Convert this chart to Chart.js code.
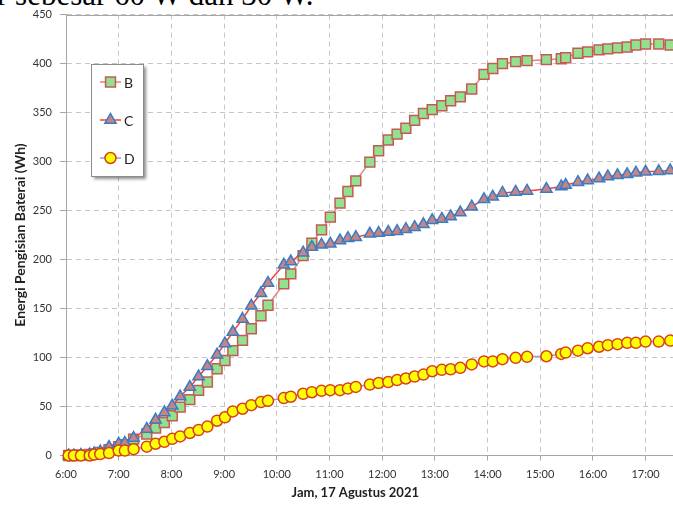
<!DOCTYPE html>
<html>
<head>
<meta charset="utf-8">
<script src="https://cdn.jsdelivr.net/npm/chart.js@4.4.0/dist/chart.umd.min.js"></script>
<style>
    html, body { margin: 0; padding: 0; background: #fff; }
    body { width: 673px; height: 509px; position: relative; overflow: hidden; }
    #topText {
        position: absolute; left: -3px; top: -21px;
        font-family: "Liberation Serif", "Times New Roman", serif;
        font-size: 31px; line-height: 31px; white-space: nowrap; color: #000;
    }
    #wrap { position: absolute; left: 0; top: 0; width: 673px; height: 509px; }
</style>
</head>
<body>
<div id="topText">r sebesar 60 W dan 30 W.</div>
<div id="wrap"><canvas id="chart" width="673" height="509"></canvas></div>
<script>
// =====================
// DATA
// =====================
const times = [
    "6:03", "6:09", "6:17", "6:27", "6:32", "6:39", "6:49", "7:00",
    "7:07", "7:17", "7:32", "7:42", "7:52", "8:01", "8:10", "8:21",
    "8:31", "8:41", "8:52", "9:01", "9:10", "9:21", "9:31", "9:42",
    "9:50", "10:08", "10:16", "10:30", "10:40", "10:51", "11:01", "11:12",
    "11:21", "11:30", "11:46", "11:56", "12:07", "12:17", "12:27", "12:37",
    "12:47", "12:57", "13:08", "13:18", "13:29", "13:42", "13:56", "14:06",
    "14:17", "14:32", "14:45", "15:07", "15:24", "15:29", "15:43", "15:54",
    "16:07", "16:17", "16:28", "16:39", "16:49", "17:00", "17:15", "17:28"
];

const seriesB = [
    0, 0, 0.5, 1, 1.5, 3, 6, 9,
    11, 16.7, 22, 28, 33.7, 40.5, 49.4, 57,
    66.5, 75, 88.5, 97, 107, 117.5, 129.3, 142.6,
    153.3, 175.2, 185.4, 204, 216.7, 230.3, 243.3, 257.6,
    269.4, 280.3, 299.4, 311, 322, 328, 334, 342,
    349, 353, 357, 362, 366, 374, 389, 395,
    400, 402, 403, 404, 405, 406, 410.5, 412,
    414, 415, 416, 417, 419, 420, 420, 419
];

const seriesC = [
    0, 0, 0.5, 1, 2, 4, 8.6, 11.9,
    12.7, 17.8, 27, 36.4, 43.9, 50.7, 60.2, 69.8,
    80.6, 91, 102.8, 114.3, 126, 139.2, 152.8, 165.6,
    176, 194.6, 198, 207, 212.7, 215, 216, 219.4,
    221.8, 222.8, 226.2, 227, 228, 229, 231, 233,
    236, 240, 241.5, 244, 248, 254, 261.5, 264,
    268, 269, 270, 272, 274.5, 276, 279, 280.6,
    282.7, 284.7, 286, 287, 288.5, 289.5, 290, 290.8
];

const seriesD = [
    0, 0, 0, 0, 1, 1.5, 2.5, 5,
    5, 6.5, 9, 12, 14, 17, 19.5, 23,
    26, 29.5, 35.5, 39, 45, 47.7, 51.4, 54.5,
    55.8, 58.6, 60, 63, 64.6, 66, 66.7, 66.7,
    68.3, 70, 72.4, 74, 75, 77, 78.6, 80.6,
    82.6, 86, 87.4, 88, 89.5, 93, 96, 96,
    98.3, 99.7, 100.7, 101.3, 103.7, 105, 107, 109.5,
    111, 112.6, 113.6, 115, 115, 116.3, 116.3, 117.3
];

const hourLabels = ["6:00", "7:00", "8:00", "9:00", "10:00", "11:00",
    "12:00", "13:00", "14:00", "15:00", "16:00", "17:00"];
const yTicks = [0, 50, 100, 150, 200, 250, 300, 350, 400, 450];

// =====================
// HELPERS
// =====================
function toHours(s) {
    let [h, m] = s.split(":").map(Number);
    return h + m / 60;
}

function makePoints(vals) {
    return times.map((t, i) => ({ x: toHours(t), y: vals[i] }));
}

const tickFont = { family: "Lato", size: 11 };
const titleFont = { family: "Lato", size: 13, weight: "bold" };
const gridColor = "#c6c6c6";
const axisColor = "#a6a6a6";

// =====================
// PLUGINS
// =====================
const frameTop = {
    id: "frameTop",
    beforeDatasetsDraw(chart) {
        let { ctx, chartArea } = chart;
        ctx.save();
        ctx.strokeStyle = axisColor;
        ctx.lineWidth = 1;
        ctx.beginPath();
        ctx.moveTo(chartArea.left, Math.round(chartArea.top) + 0.5);
        ctx.lineTo(chartArea.right, Math.round(chartArea.top) + 0.5);
        ctx.stroke();
        ctx.restore();
    }
};

const boxLegend = {
    id: "boxLegend",
    afterDraw(chart) {
        let ctx = chart.ctx;
        let bx = 91, by = 64, bw = 52, bh = 112;
        ctx.save();
        ctx.shadowColor = "rgba(0,0,0,0.45)";
        ctx.shadowOffsetX = 3;
        ctx.shadowOffsetY = 3;
        ctx.shadowBlur = 3;
        ctx.fillStyle = "#fff";
        ctx.fillRect(bx, by, bw, bh);
        ctx.restore();

        ctx.save();
        ctx.strokeStyle = "#8c8c8c";
        ctx.lineWidth = 1;
        ctx.strokeRect(bx + 0.5, by + 0.5, bw, bh);

        let rows = [82, 120, 158];
        chart.data.datasets.forEach((ds, i) => {
            let y = rows[i];
            ctx.strokeStyle = ds.borderColor;
            ctx.lineWidth = ds.borderWidth;
            ctx.beginPath();
            ctx.moveTo(100, y);
            ctx.lineTo(121, y);
            ctx.stroke();

            ctx.fillStyle = ds.pointBackgroundColor;
            ctx.strokeStyle = ds.pointBorderColor;
            ctx.lineWidth = ds.pointBorderWidth;
            Chart.helpers.drawPoint(ctx, {
                pointStyle: ds.pointStyle,
                radius: ds.pointRadius,
                borderWidth: ds.pointBorderWidth,
                rotation: 0
            }, 110.5, y);

            ctx.fillStyle = "#222";
            ctx.font = "14px Lato";
            ctx.textBaseline = "middle";
            ctx.textAlign = "left";
            ctx.fillText(ds.label, 124, y + 1);
        });
        ctx.restore();
    }
};

// =====================
// CHART
// =====================
new Chart(document.getElementById("chart"), {
    type: "line",
    data: {
        datasets: [
            {
                label: "B",
                data: makePoints(seriesB),
                borderColor: "rgba(214,120,118,0.9)",
                borderWidth: 1.5,
                pointStyle: "rect",
                pointRadius: 7,
                pointBackgroundColor: "#93e08f",
                pointBorderColor: "#c55a55",
                pointBorderWidth: 1.5,
                order: 3,
                clip: false
            },
            {
                label: "C",
                data: makePoints(seriesC),
                borderColor: "#ff3b3b",
                borderWidth: 1.5,
                pointStyle: "triangle",
                pointRadius: 6.5,
                pointBackgroundColor: "#c48584",
                pointBorderColor: "#3a7cc4",
                pointBorderWidth: 1.5,
                order: 2,
                clip: false
            },
            {
                label: "D",
                data: makePoints(seriesD),
                borderColor: "#9d99d6",
                borderWidth: 1.5,
                pointStyle: "circle",
                pointRadius: 5.5,
                pointBackgroundColor: "#ffff00",
                pointBorderColor: "#d8401c",
                pointBorderWidth: 1.5,
                order: 1,
                clip: false
            }
        ]
    },
    options: {
        responsive: false,
        animation: false,
        events: [],
        layout: {
            autoPadding: false,
            padding: { top: 14, left: 0, right: 0, bottom: 0 }
        },
        plugins: {
            legend: { display: false },
            tooltip: { enabled: false }
        },
        scales: {
            x: {
                type: "linear",
                min: 6,
                max: 17.52,
                afterBuildTicks(scale) {
                    scale.ticks = hourLabels.map((_, i) => ({ value: 6 + i }));
                },
                afterFit(scale) { scale.height = 53.5; },
                ticks: {
                    autoSkip: false,
                    maxRotation: 0,
                    padding: 7,
                    font: tickFont,
                    color: "#333",
                    callback: v => hourLabels[Math.round(v) - 6]
                },
                grid: { color: gridColor, tickLength: 5, tickColor: axisColor },
                border: { color: axisColor, width: 1, dash: [5, 4] },
                title: {
                    display: true,
                    text: "Jam, 17 Agustus 2021" + "\u00a0".repeat(9),
                    font: titleFont,
                    color: "#222",
                    padding: { top: 4, bottom: 8 }
                }
            },
            y: {
                min: 0,
                max: 450,
                afterBuildTicks(scale) {
                    scale.ticks = yTicks.map(v => ({ value: v }));
                },
                afterFit(scale) { scale.width = 66; },
                ticks: {
                    padding: 8,
                    font: tickFont,
                    color: "#333"
                },
                grid: { color: gridColor, tickLength: 6, tickColor: axisColor },
                border: { color: axisColor, width: 1, dash: [5, 4] },
                title: {
                    display: true,
                    text: "Energi Pengisian Baterai (Wh)",
                    font: { family: "Lato", size: 14, weight: "bold" },
                    color: "#222",
                    padding: { top: 12, bottom: 4 }
                }
            }
        }
    },
    plugins: [frameTop, boxLegend]
});
</script>
</body>
</html>
